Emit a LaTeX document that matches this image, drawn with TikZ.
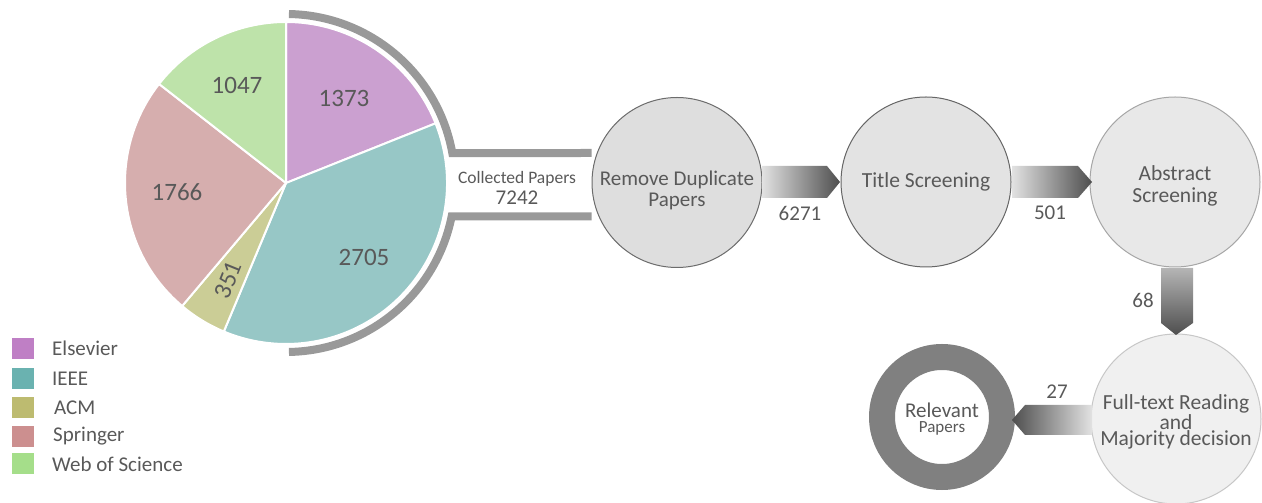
\documentclass[tikz,border=0pt]{standalone}
\usepackage{fontspec}
\setmainfont{Carlito}
\begin{document}
\begin{tikzpicture}[x=1pt,y=1pt,
  txt/.style={text=txtgray, inner sep=0pt, align=center},
  stage/.style={circle, minimum size=170pt, inner sep=0pt, draw=#1, line width=1pt},
  slice/.style={draw=white, line width=2pt, line join=round},
  bracket/.style={draw=brgray, line width=8pt},
  legbox/.style={minimum width=22pt, minimum height=21pt, inner sep=0pt},
  legtxt/.style={text=txtgray, anchor=west, inner sep=0pt, font=\fontsize{21}{21}\selectfont}
]
\definecolor{txtgray}{HTML}{595959}
\definecolor{brgray}{HTML}{999999}
\definecolor{cEls}{HTML}{CBA0D0}
\definecolor{cIeee}{HTML}{97C7C6}
\definecolor{cAcm}{HTML}{CBCD96}
\definecolor{cSpr}{HTML}{D6AEAE}
\definecolor{cWos}{HTML}{BEE3AA}
\definecolor{lEls}{HTML}{BF7FC5}
\definecolor{lIeee}{HTML}{6AB2B0}
\definecolor{lAcm}{HTML}{BDBB70}
\definecolor{lSpr}{HTML}{CC8F8F}
\definecolor{lWos}{HTML}{A5DE8A}
\definecolor{ringgray}{HTML}{808080}
\definecolor{arrlight}{HTML}{E2E2E2}
\definecolor{arrdark}{HTML}{4E4E4E}

\useasboundingbox (0,0) rectangle (1262,503);

% pie
\coordinate (pc) at (286,320);
\filldraw[slice, fill=cEls] (pc) -- ++(90:161) arc[start angle=90, end angle=21.75, radius=161] -- cycle;
\filldraw[slice, fill=cIeee] (pc) -- ++(21.75:161) arc[start angle=21.75, end angle=-112.72, radius=161] -- cycle;
\filldraw[slice, fill=cAcm] (pc) -- ++(-112.72:161) arc[start angle=-112.72, end angle=-130.17, radius=161] -- cycle;
\filldraw[slice, fill=cSpr] (pc) -- ++(-130.17:161) arc[start angle=-130.17, end angle=-217.96, radius=161] -- cycle;
\filldraw[slice, fill=cWos] (pc) -- ++(-217.96:161) arc[start angle=-217.96, end angle=-270, radius=161] -- cycle;

\begin{scope}[font=\fontsize{25}{25}\selectfont]
\node[txt] (nEls) at (344,405) {1373};
\node[txt] (nWos) at (237,418) {1047};
\node[txt] (nSpr) at (177,311) {1766};
\node[txt] (nIeee) at (364,246) {2705};
\node[txt, rotate=68] (nAcm) at (228,223) {351};
\end{scope}

% stages
\node[stage=gray!85!black, fill=black!13] (dup) at (677,320.5) {};
\node[txt, font=\fontsize{21}{21}\selectfont] at (677,313) {Remove Duplicate\\Papers};
\node[stage=gray!80!black, fill=black!11] (title) at (926,321) {};
\node[txt, font=\fontsize{21.5}{21.5}\selectfont] at (926,321) {Title Screening};
\node[stage=gray!70, fill=black!9] (abs) at (1175,321) {};
\node[txt, font=\fontsize{21.5}{21.5}\selectfont] at (1175,317) {Abstract\\Screening};
\node[stage=black!22, fill=black!6] (full) at (1176,84) {};
\node[txt, font=\fontsize{21.5}{16.7}\selectfont] at (1176,81) {Full-text Reading\\and\\Majority decision};

% relevant ring
\node[circle, draw=ringgray, line width=26pt, minimum size=120pt, inner sep=0pt, fill=white] (rel) at (942,86) {};
\node[txt, font=\fontsize{21}{15}\selectfont] at (942,84) {Relevant\\{\fontsize{17}{15}\selectfont Papers}};

% bracket from pie to first stage
\coordinate (bt) at (598,350);
\coordinate (bb) at (598,286.5);
\draw[bracket, line join=miter] (pc) ++(89:169) arc[start angle=89, end angle=10.2, radius=169] -- (bt -| dup.west);
\draw[bracket, line join=miter] (pc) ++(-89:169) arc[start angle=-89, end angle=-11.4, radius=169] -- (bb -| dup.west);
\node[txt, font=\fontsize{17.5}{21}\selectfont] (coll) at (517,315) {Collected Papers\\{\fontsize{21}{21}\selectfont 7242}};

% chevron arrows
\shade[left color=arrlight, right color=arrdark] (762,337) -- (827,337) -- (840,321) -- (827,305) -- (762,305) -- cycle;
\shade[left color=arrlight, right color=arrdark] (1012,337) -- (1078,337) -- (1092,321) -- (1078,305) -- (1012,305) -- cycle;
\shade[top color=arrlight!80!black, bottom color=arrdark] (1161,235) -- (1161,180) -- (1176,168) -- (1193,180) -- (1193,235) -- cycle;
\shade[left color=arrdark, right color=arrlight] (1092,98) -- (1025,98) -- (1012,83) -- (1025,68) -- (1092,68) -- cycle;

\begin{scope}[font=\fontsize{21}{21}\selectfont]
\node[txt] (l1) at (800,290) {6271};
\node[txt] (l2) at (1050,290) {501};
\node[txt] (l3) at (1143,203) {68};
\node[txt] (l4) at (1057,111) {27};
\end{scope}

% legend
\node[legbox, fill=lEls] (k1) at (23,154.5) {};
\node[legbox, fill=lIeee] (k2) at (23,124.5) {};
\node[legbox, fill=lAcm] (k3) at (23,95.5) {};
\node[legbox, fill=lSpr] (k4) at (23,66.5) {};
\node[legbox, fill=lWos] (k5) at (23,39) {};
\node[legtxt] at (52,154.5) {Elsevier};
\node[legtxt] at (52,124.5) {IEEE};
\node[legtxt] at (54,95.5) {ACM};
\node[legtxt] at (53,66.5) {Springer};
\node[legtxt] at (52,39) {Web of Science};
\end{tikzpicture}
\end{document}
